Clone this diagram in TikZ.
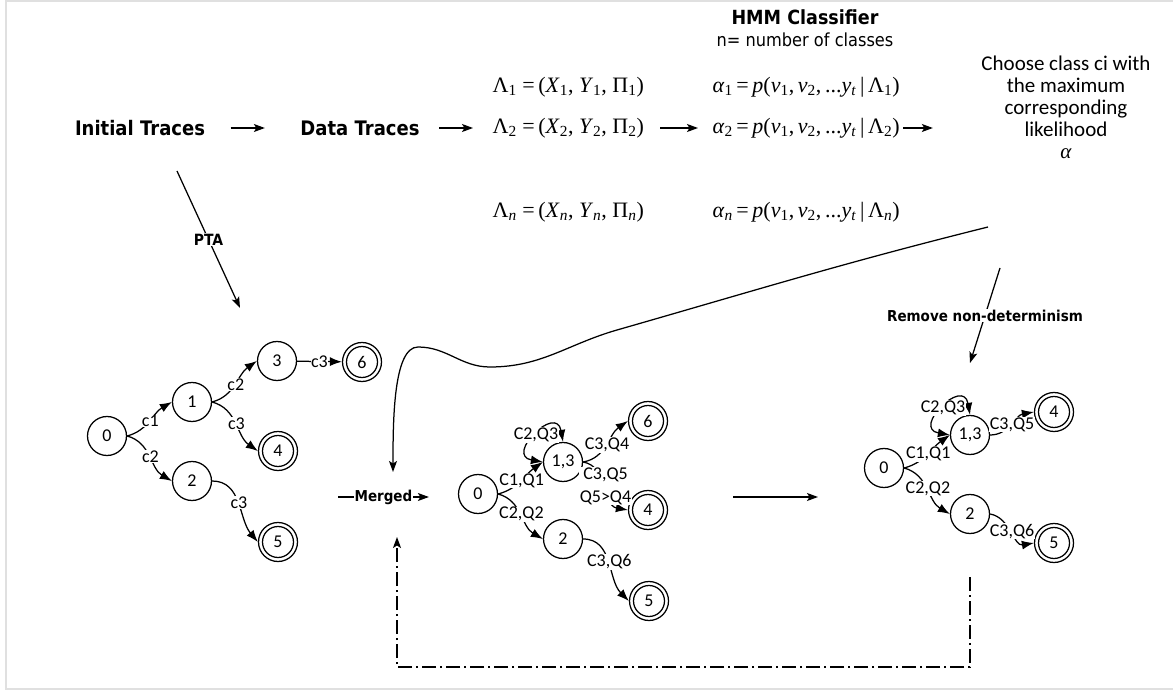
\documentclass[tikz,border=0pt]{standalone}
\usepackage{fontspec}
\setmainfont{Carlito}
\newfontfamily\tah[FakeStretch=0.9]{DejaVu Sans}
\newfontfamily\tms{Liberation Serif}
\usetikzlibrary{arrows.meta,calc}
\newcommand\lsub[1]{\textsubscript{#1}}

\tikzset{
  every picture/.style={line width=1.25pt},
  arr/.style={-{Latex[length=12pt,width=9pt]}},
  barr/.style={{Latex[length=12pt,width=9pt]}-{Latex[length=12pt,width=9pt]}},
  tarr/.style={-{Stealth[length=11pt,width=8pt,inset=2.5pt]}},
  st/.style={circle, draw, minimum size=39pt, inner sep=0pt, font=\fontsize{18}{20}\selectfont},
  acc/.style={st, path picture={\draw (path picture bounding box.center) circle (15.5pt);}},
  lbl/.style={fill=white, inner sep=0.6pt, font=\fontsize{18}{20}\selectfont},
  boldtxt/.style={inner sep=0pt, font=\tah\bfseries\fontsize{20}{24}\selectfont},
  lblb/.style={fill=white, inner sep=1pt, font=\tah\bfseries\fontsize{#1}{18}\selectfont},
  regtxt/.style={inner sep=0pt, font=\tah\fontsize{18}{22}\selectfont},
  mth/.style={inner sep=0pt, anchor=west, font=\tms\fontsize{22}{26}\selectfont},
  fbline/.style={dash pattern=on 14pt off 4pt on 2pt off 4pt},
}

\begin{document}
\begin{tikzpicture}
\useasboundingbox (0,0) rectangle (1173pt,-692pt);
\begin{scope}[x=1pt,y=1pt]
% frame
\draw[black!12, line width=2pt] (6,-1) rectangle (1182,-689);

% processing pipeline
\node[boldtxt] (init) at (140,-128) {Initial Traces};
\node[boldtxt] (data) at (360,-128) {Data Traces};
\node[boldtxt, font=\tah\bfseries\fontsize{19.5}{24}\selectfont] (hmm) at (805,-17) {HMM Classifier};
\node[regtxt] (ncls) at (805,-40) {n= number of classes};

\node[mth] (lam1) at (492,-87) {Λ\lsub{1} =\,(\textit{X}\lsub{1}, \textit{Y}\lsub{1}, Π\lsub{1})};
\node[mth] (lam2) at (492,-128) {Λ\lsub{2} =\,(\textit{X}\lsub{2}, \textit{Y}\lsub{2}, Π\lsub{2})};
\node[mth] (lamn) at (492,-212) {Λ\lsub{\textit{n}} =\,(\textit{X}\lsub{\textit{n}}, \textit{Y}\lsub{\textit{n}}, Π\lsub{\textit{n}})};
\node[mth] (al1) at (712,-87) {\textit{α}\lsub{1}\,=\,\textit{p}(\textit{v}\lsub{1},\,\textit{v}\lsub{2},\,...\textit{y}\lsub{\textit{t}}\,|\,Λ\lsub{1})};
\node[mth] (al2) at (712,-128) {\textit{α}\lsub{2}\,=\,\textit{p}(\textit{v}\lsub{1},\,\textit{v}\lsub{2},\,...\textit{y}\lsub{\textit{t}}\,|\,Λ\lsub{2})};
\node[mth] (aln) at (712,-212) {\textit{α}\lsub{\textit{n}}\,=\,\textit{p}(\textit{v}\lsub{1},\,\textit{v}\lsub{2},\,...\textit{y}\lsub{\textit{t}}\,|\,Λ\lsub{\textit{n}})};

\node[inner sep=0pt, align=center, font=\fontsize{21}{22}\selectfont] (choose) at (1066,-107)
  {Choose class ci with\\the maximum\\corresponding\\likelihood\\{\tms\itshape α}};

\draw[tarr] ([xshift=25pt]init.east) -- ([xshift=-35pt]data.west);
\draw[tarr] ([xshift=19pt]data.east) -- ([xshift=-19pt]lam2.west);
\draw[tarr] ([xshift=168pt]lam2.west) -- ([xshift=-14pt]al2.west);
\draw[tarr] ([xshift=191pt]al2.west) -- ($(choose.west |- al2.west)+(-48,0)$);

% prefix tree
\coordinate (ptaS) at (177,-171);
\coordinate (ptaE) at (240,-308);
\draw[tarr] (ptaS) -- node[lblb=15.5] {PTA} (ptaE);

\node[st]  (p0) at (107,-436) {0};
\node[st]  (p1) at (192,-402) {1};
\node[st]  (p3) at (277,-361) {3};
\node[acc] (p6) at (362,-362) {6};
\node[acc] (p4) at (278,-451) {4};
\node[st]  (p2) at (192,-481) {2};
\node[acc] (p5) at (278,-542) {5};

\draw[arr] (p0.east) to[out=15,in=210] node[lbl] {c1} (p1.west);
\draw[arr] (p0.east) to[out=-15,in=150] node[lbl] {c2} (p2.west);
\draw[arr] (p1.east) to[out=15,in=215] node[lbl] {c2} (p3.west);
\draw[arr] (p1.east) to[out=-15,in=145] node[lbl] {c3} (p4.west);
\draw[arr] (p2.east) to[out=0,in=130] node[lbl] {c3} (p5.west);
\draw[arr] (p3) -- node[lbl] {c3} (p6);

% merged automaton
\node[st]  (m0)  at (478,-494) {0};
\node[st]  (m13) at (563,-462) {1,3};
\node[acc] (m6)  at (648,-421) {6};
\node[acc] (m4)  at (648,-510) {4};
\node[st]  (m2)  at (563,-539) {2};
\node[acc] (m5)  at (649,-601) {5};

\draw[arr] (m0.east) to[out=15,in=215] node[lbl] {C1,Q1} (m13.west);
\draw[arr] (m0.east) to[out=-15,in=150] node[lbl] {C2,Q2} (m2.west);
\draw[barr] (m13.west) to[out=170,in=100,looseness=3.5] node[lbl] {C2,Q3} (m13.north);
\draw[arr] (m13.east) to[out=10,in=215] node[lbl] {C3,Q4} (m6.west);
\draw[arr] (m13.east) to[out=-10,in=170] node[lbl, align=center, font=\fontsize{18}{23}\selectfont] {C3,Q5\\Q5>Q4} (m4.west);
\draw[arr] (m2.east) to[out=0,in=135] node[lbl] {C3,Q6} (m5.west);

% deterministic automaton
\node[st]  (r0)  at (884,-468) {0};
\node[st]  (r13) at (970,-435) {1,3};
\node[acc] (r4)  at (1054,-412) {4};
\node[st]  (r2)  at (970,-514) {2};
\node[acc] (r5)  at (1054,-543) {5};

\draw[arr] (r0.east) to[out=15,in=215] node[lbl] {C1,Q1} (r13.west);
\draw[arr] (r0.east) to[out=-15,in=150] node[lbl] {C2,Q2} (r2.west);
\draw[barr] (r13.west) to[out=170,in=100,looseness=3.5] node[lbl] {C2,Q3} (r13.north);
\draw[arr] (r13.east) to[out=0,in=190] node[lbl] {C3,Q5} (r4.west);
\draw[arr] (r2.east) to[out=-10,in=190] node[lbl] {C3,Q6} (r5.west);

% classifier result feeds the merge step
\coordinate (chS) at (988,-227);
\coordinate (mgT) at (393,-472);
\draw[tarr] (chS) to[out=194,in=16] (617,-330) to[out=196,in=0] (490,-367)
  to[out=180,in=0] (418,-347) to[out=180,in=90,out looseness=0.5] (mgT);

\coordinate (mgS) at (338,-497);
\draw[tarr] (mgS) -- node[lblb=15] {Merged} ([xshift=-29pt]m0.west |- mgS);

\coordinate (fwS) at (733,-497);
\coordinate (fwE) at (818,-497);
\draw[tarr] (fwS) -- (fwE);

\coordinate (rmS) at (1000,-268);
\coordinate (rmE) at (970,-363);
\draw[tarr] (rmS) -- node[lblb=15] {Remove non-determinism} (rmE);

% feedback loop
\coordinate (fbS) at (970,-577);
\coordinate (fbE) at (397,-537);
\draw[tarr, fbline] (fbS) -- ++(0,-90) -| (fbE);
\end{scope}
\end{tikzpicture}
\end{document}
